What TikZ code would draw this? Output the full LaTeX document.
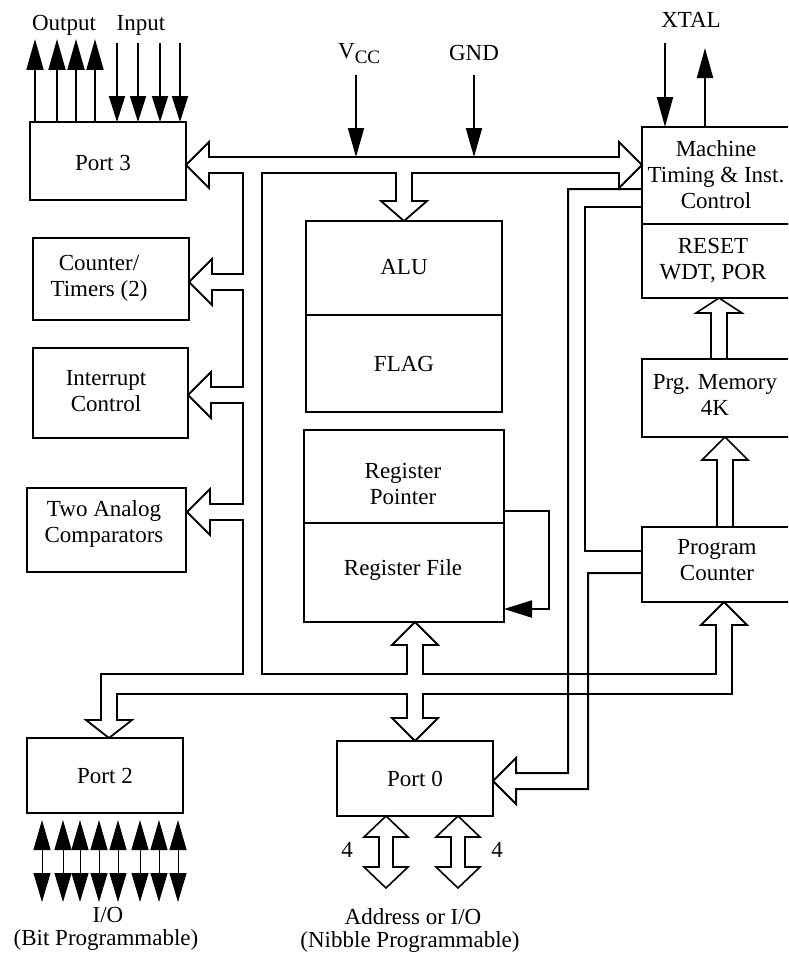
\documentclass[tikz,border=0pt]{standalone}
\usepackage{fontspec}
\setmainfont{Liberation Serif}
\usetikzlibrary{arrows.meta}
\begin{document}
\begin{tikzpicture}[x=1pt,y=-1pt,
  box/.style={draw,line width=2pt,rectangle,inner sep=0pt},
  txt/.style={inner sep=0pt,align=center,font=\fontsize{23}{26}\selectfont},
  lbl/.style={inner sep=0pt,font=\fontsize{23}{26}\selectfont,anchor=base},
  wire/.style={line width=2pt},
  bus/.style={line width=1.8pt,line join=miter},
  thinbus/.style={line width=1.6pt,line join=miter},
  bigtip/.style={-{Triangle[length=30pt,width=17pt]}},
]
\useasboundingbox (0,0) rectangle (788,958);
\clip (0,0) rectangle (788,958);

% ---- boxes ----
\node[box,minimum width=156pt,minimum height=78pt] (port3) at (108,161) {};
\node[box,minimum width=156pt,minimum height=82pt] (counter) at (111,279) {};
\node[box,minimum width=155pt,minimum height=90pt] (intr) at (110.5,393) {};
\node[box,minimum width=159pt,minimum height=84pt] (analog) at (106.5,530) {};
\node[box,minimum width=196pt,minimum height=94pt] (alu) at (404,268) {};
\node[box,minimum width=196pt,minimum height=97pt] (flag) at (404,363.5) {};
\node[box,minimum width=200pt,minimum height=93pt] (regptr) at (404,476.5) {};
\node[box,minimum width=200pt,minimum height=99pt] (regfile) at (404,572.5) {};
\node[box,minimum width=150pt,minimum height=97pt] (mtic) at (717,175.5) {};
\node[box,minimum width=150pt,minimum height=74pt] (reset) at (717,261) {};
\node[box,minimum width=150pt,minimum height=78pt] (prg) at (717,398) {};
\node[box,minimum width=150pt,minimum height=75pt] (pc) at (717,564.5) {};
\node[box,minimum width=156pt,minimum height=75pt] (port0) at (415,778.5) {};
\node[box,minimum width=156pt,minimum height=75pt] (port2) at (105,775.5) {};

% ---- box texts ----
\node[txt] (port3T) at (103,163) {Port 3};
\node[txt] (counterT) at (99,278) {Counter/\\Timers (2)};
\node[txt] (intrT) at (106,391) {Interrupt\\Control};
\node[txt] (analogT) at (104,524) {Two Analog\\Comparators};
\node[txt] (aluT) at (404,267) {ALU};
\node[txt] (flagT) at (404,364) {FLAG};
\node[txt] (regptrT) at (403,484) {Register\\Pointer};
\node[txt] (regfileT) at (403,570) {Register File};
\node[txt] (mticT) at (716,175) {Machine\\Timing \& Inst.\\Control};
\node[txt] (resetT) at (713,261) {RESET\\WDT, POR};
\node[txt] (prgT) at (715,395) {Prg. Memory\\4K};
\node[txt] (pcT) at (717,560) {Program\\Counter};
\node[txt] (port0T) at (415,779) {Port 0};
\node[txt] (port2T) at (105,776) {Port 2};

% ---- labels ----
\node[lbl] (outL) at (64,31) {Output};
\node[lbl] (inL) at (141,31) {Input};
\node[lbl,anchor=base west] (vccL) at (338,59) {V\raisebox{-5pt}{\fontsize{19}{19}\selectfont CC}};
\node[lbl] (gndL) at (474,61) {GND};
\node[lbl] (xtalL) at (691,28) {XTAL};
\node[lbl] (fourA) at (347,857) {4};
\node[lbl] (fourB) at (497,857) {4};
\node[lbl] (addrL) at (413,924) {Address or I/O};
\node[lbl] (nibL) at (410,947) {(Nibble Programmable)};
\node[lbl] (ioL) at (108,922) {I/O};
\node[lbl] (bitL) at (106,945) {(Bit Programmable)};

% ---- black arrows ----
\foreach \x in {35,57,76,95}
  \draw[wire,-{Triangle[length=31pt,width=17pt]}] (\x,122) -- (\x,39);
\foreach \x in {117,138,160,180}
  \draw[wire,-{Triangle[length=26pt,width=16pt]}] (\x,43) -- (\x,122);
\draw[wire,-{Triangle[length=29pt,width=16pt]}] (356,75) -- (356,157);
\draw[wire,-{Triangle[length=29pt,width=16pt]}] (474,75) -- (474,157);
\draw[wire,-{Triangle[length=30pt,width=16pt]}] (665,43) -- (665,127);
\draw[wire,-{Triangle[length=30pt,width=16pt]}] (705,127) -- (705,48);
\foreach \x in {42,63,80,99,118,140,159,178}
  \draw[line width=1pt,{Triangle[length=30pt,width=17pt]}-{Triangle[length=29pt,width=17pt]}] (\x,820) -- (\x,902);
\draw[wire,-{Triangle[length=28pt,width=17pt]}] (504,511) -- (549,511) -- (549,609) -- (504,609);

% ---- main bus (one outline) ----
\draw[bus] (209,157) -- (209,142) -- (186,165) -- (209,188) -- (209,173)
  -- (243,173) -- (243,274) -- (212,274) -- (212,259) -- (189,282) -- (212,305) -- (212,290)
  -- (243,290) -- (243,387) -- (211,387) -- (211,372) -- (188,395) -- (211,418) -- (211,403)
  -- (243,403) -- (243,504) -- (210,504) -- (210,489) -- (187,512) -- (210,535) -- (210,520)
  -- (243,520) -- (243,674) -- (101,674) -- (101,720) -- (86,720) -- (109,738) -- (132,720) -- (117,720)
  -- (117,694) -- (407,694) -- (407,718) -- (392,718) -- (415,741) -- (438,718) -- (423,718)
  -- (423,694) -- (732,694) -- (732,625) -- (747,625) -- (724,602) -- (701,625) -- (716,625)
  -- (716,674) -- (423,674) -- (423,645) -- (438,645) -- (415,622) -- (392,645) -- (407,645)
  -- (407,674) -- (262,674) -- (262,173) -- (396,173) -- (396,201) -- (381,201) -- (404,221)
  -- (427,201) -- (412,201) -- (412,173) -- (619,173) -- (619,188) -- (642,165) -- (619,142)
  -- (619,157) -- cycle;

% ---- control lines ----
\draw[wire,line join=miter] (642,189) -- (568,189) -- (568,773) -- (516,773) -- (516,758) -- (493,781)
  -- (516,804) -- (516,789) -- (588,789) -- (588,573) -- (642,573);
\draw[wire] (642,207) -- (585,207) -- (585,551) -- (642,551);

% ---- small hollow arrows ----
\draw[thinbus] (711,359) -- (711,313) -- (696,313) -- (719,298) -- (742,313) -- (727,313) -- (727,359);
\draw[thinbus] (717,527) -- (717,460) -- (702,460) -- (725,437) -- (748,460) -- (733,460) -- (733,527);
\draw[thinbus] (379,837) -- (364,837) -- (386,816) -- (408,837) -- (393,837) -- (393,867) -- (408,867)
  -- (386,888) -- (364,867) -- (379,867) -- cycle;
\draw[thinbus] (451,837) -- (436,837) -- (458,816) -- (480,837) -- (465,837) -- (465,867) -- (480,867)
  -- (458,888) -- (436,867) -- (451,867) -- cycle;
\end{tikzpicture}
\end{document}
